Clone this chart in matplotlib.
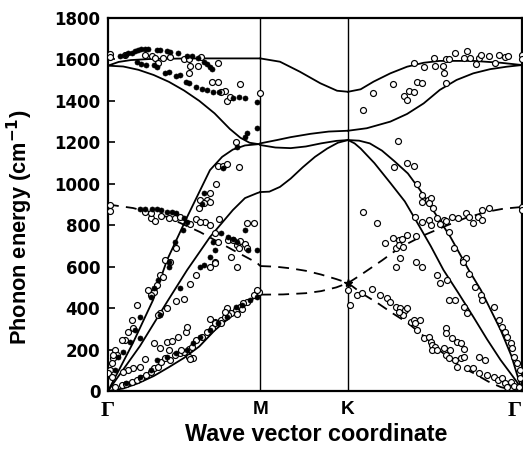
import matplotlib
matplotlib.use('Agg')
import matplotlib.pyplot as plt

# high-symmetry points along the path (Gamma-M = 1)
sym_pos = [0.0, 1.0, 1.577, 2.72]
sym_labels = ['Γ', 'M', 'K', 'Γ']

# ---- theoretical curves (solid) ----
up_gm_q = [0.0, 0.07, 0.15, 0.3, 0.6, 1.0]
up_gm_e = [1570, 1588, 1597, 1603, 1605, 1605]
up_mk_q = [1.0, 1.13, 1.26, 1.395, 1.505, 1.577]
up_mk_e = [1605, 1589, 1541, 1485, 1449, 1444]
up_kg_q = [1.577, 1.66, 1.745, 1.855, 1.965, 2.074, 2.18, 2.40, 2.58, 2.72]
up_kg_e = [1444, 1456, 1493, 1533, 1565, 1584, 1593, 1593, 1584, 1573]

lo_gm_q = [0.0, 0.1, 0.2, 0.3, 0.4, 0.5, 0.6, 0.7, 0.8, 0.87, 0.93, 1.0]
lo_gm_e = [1570, 1566, 1550, 1525, 1492, 1450, 1400, 1340, 1265, 1222, 1198, 1190]

mk_a_q = [1.0, 1.11, 1.2, 1.33, 1.45, 1.577]
mk_a_e = [1195, 1211, 1225, 1241, 1252, 1256]
kg_a_q = [1.577, 1.70, 1.855, 1.965, 2.074, 2.18, 2.29, 2.40, 2.51, 2.62, 2.72]
kg_a_e = [1256, 1268, 1300, 1337, 1388, 1453, 1501, 1533, 1553, 1565, 1573]

mk_b_q = [1.0, 1.1, 1.2, 1.3, 1.4, 1.5, 1.577]
mk_b_e = [1187, 1175, 1172, 1180, 1195, 1207, 1211]

la_gm_q = [0.0, 0.079, 0.164, 0.296, 0.388, 0.52, 0.67, 0.75, 0.82, 0.9, 1.0]
la_gm_e = [0, 111, 232, 439, 632, 840, 1066, 1130, 1165, 1185, 1192]

ta_gm_q = [0.0, 0.079, 0.21, 0.388, 0.52, 0.67, 0.82, 0.9, 0.98, 1.0]
ta_gm_e = [0, 82, 217, 430, 584, 743, 873, 931, 955, 960]
ta_mk_q = [1.0, 1.06, 1.13, 1.2, 1.28, 1.36, 1.44, 1.51, 1.577]
ta_mk_e = [960, 962, 985, 1025, 1080, 1130, 1170, 1198, 1211]

za_gm_q = [0.0, 0.1, 0.2, 0.3, 0.4, 0.5, 0.6, 0.7, 0.8, 0.9, 1.0]
za_gm_e = [0, 12, 38, 72, 115, 160, 215, 292, 355, 417, 470]

kg_c_q = [1.577, 1.62, 1.66, 1.75, 1.855, 1.95, 2.033, 2.12, 2.204, 2.30, 2.401, 2.49, 2.579, 2.65, 2.691, 2.72]
kg_c_e = [1211, 1195, 1170, 1100, 1004, 915, 811, 700, 584, 475, 357, 250, 150, 80, 39, 0]
kg_d_q = [1.577, 1.65, 1.72, 1.80, 1.88, 1.97, 2.05, 2.12, 2.25, 2.37, 2.45, 2.58, 2.65, 2.70, 2.72]
kg_d_e = [1211, 1208, 1195, 1160, 1110, 1050, 970, 890, 743, 584, 487, 294, 170, 50, 0]

# ---- theoretical curves (dashed) ----
zo_gm_q = [0.0, 0.164, 0.388, 0.605, 0.822, 0.98, 1.0]
zo_gm_e = [900, 883, 840, 767, 680, 618, 603]
zo_mk_q = [1.0, 1.1, 1.2, 1.3, 1.4, 1.5, 1.577]
zo_mk_e = [603, 600, 592, 580, 562, 540, 521]
zo_kg_q = [1.577, 1.65, 1.72, 1.80, 1.875, 1.965, 2.07, 2.23, 2.35, 2.49, 2.60, 2.72]
zo_kg_e = [521, 555, 590, 630, 670, 710, 750, 800, 835, 865, 880, 888]

za_mk_q = [1.0, 1.15, 1.3, 1.4, 1.5, 1.577]
za_mk_e = [465, 466, 472, 482, 500, 521]
za_kg_q = [1.577, 1.67, 1.77, 1.87, 1.97, 2.10, 2.18, 2.32, 2.40, 2.50, 2.58, 2.65, 2.72]
za_kg_e = [521, 470, 425, 375, 328, 250, 195, 116, 87, 45, 19, 6, 0]

# ---- experimental points, open circles ----
open_q = [
    0.01, 0.01, 0.11, 0.24, 0.29, 0.31, 0.36, 0.41, 0.33, 0.50, 0.53, 0.61, 0.54, 0.59,
    0.53, 0.72, 0.68, 0.72, 0.87, 0.77, 0.74, 0.78, 0.80, 1.0, 0.84,
    0.01, 0.01, 0.72, 0.755, 0.78, 0.86, 0.71, 0.67, 0.65, 0.67, 0.605, 0.63, 0.60,
    0.73, 0.58, 0.64, 0.605, 0.67, 0.54, 0.28, 0.31, 0.35, 0.40, 0.44, 0.47, 0.24, 0.28,
    0.91, 0.96, 0.70, 0.72, 0.79, 0.82, 0.87, 0.85, 0.90, 0.91, 0.86, 0.45, 0.375, 0.41,
    0.81, 0.70, 0.85, 0.67,
    0.34, 0.36, 0.32, 0.30, 0.28, 0.265, 0.19, 0.156, 0.167, 0.134, 0.11, 0.09,
    0.046, 0.057, 0.035, 0.024, 0.013, 0.002, 0.024, 0.035,
    0.70, 0.58, 0.54, 0.50, 0.45, 0.39, 0.34, 0.33,
    0.24, 0.21, 0.167, 0.134, 0.10,
    0.046, 0.09, 0.12, 0.156, 0.19, 0.22, 0.25, 0.28, 0.30, 0.33, 0.35, 0.375, 0.41, 0.44,
    0.47, 0.50, 0.53, 0.55, 0.58, 0.62, 0.65, 0.68, 0.70, 0.74, 0.77, 0.80, 0.84, 0.87,
    0.91, 0.96, 0.99,
    0.30, 0.34, 0.39, 0.42, 0.46, 0.51, 0.52, 0.40, 0.48, 0.56, 0.53, 0.54,
    0.67, 0.70, 0.74, 0.78, 0.81, 0.85, 0.79, 0.77, 0.88, 0.89, 0.98,
    # K - Gamma
    1.676, 1.74, 1.87, 1.906, 1.947, 1.965, 1.976, 2.01, 2.03, 2.064, 2.074, 2.01, 2.14,
    2.15, 2.20, 2.206, 2.22, 2.22, 2.24, 2.28, 2.34, 2.36, 2.38, 2.42, 2.44, 2.45, 2.50,
    2.54, 2.57, 2.61, 2.63, 2.72, 2.72,
    1.877, 1.965, 2.013, 1.676, 1.77, 2.03, 2.064, 2.064, 2.10, 2.12, 2.11, 2.136, 2.02,
    2.064, 2.107, 2.16, 2.12, 2.206, 2.18, 2.22, 2.26, 2.24, 2.30, 2.35, 2.37, 2.40, 2.43,
    2.46, 2.46, 2.50, 2.72, 2.72, 2.27, 2.33, 2.35, 1.965, 2.026,
    1.82, 1.87, 1.91, 1.93, 1.89, 1.91, 1.94, 1.92, 1.89, 2.026, 2.064,
    1.58, 1.59, 1.636, 1.67, 1.735, 1.785, 1.83, 1.855, 1.89, 1.92, 1.93, 1.95, 1.965,
    1.94, 1.91, 1.99, 2.01, 2.05, 2.02, 2.03, 2.074, 2.107, 2.12, 2.13, 2.15, 2.13, 2.16,
    2.22, 2.22, 2.26, 2.29, 2.32, 2.34, 2.206, 2.25, 2.22, 2.24, 2.28, 2.32,
    2.34, 2.29, 2.36, 2.40, 2.44, 2.48, 2.44, 2.49, 2.535, 2.56, 2.59, 2.61, 2.645, 2.62,
    2.67, 2.70,
    2.33, 2.37, 2.41, 2.45, 2.46, 2.535, 2.57, 2.59, 2.61, 2.62, 2.645, 2.655, 2.67, 2.69,
    2.71, 2.71,
    2.16, 2.18, 2.23, 2.24, 2.28, 2.34, 2.36,
]
open_e = [
    1626, 1610, 1622, 1622, 1617, 1606, 1606, 1610, 1581, 1601, 1601, 1613, 1568, 1568,
    1533, 1585, 1493, 1493, 1482, 1449, 1441, 1401, 1417, 1440, 1203,
    898, 870, 1086, 1086, 1095, 1082, 999, 954, 922, 913, 922, 906, 882,
    829, 829, 817, 817, 801, 806, 833, 822, 845, 833, 833, 841, 865, 858,
    809, 809, 761, 721, 729, 729, 725, 705, 709, 689, 689, 689, 632, 624,
    648, 624, 600, 597,
    560, 552, 512, 479, 463, 487, 415, 343, 303, 286, 246, 246,
    198, 174, 158, 134, 101, 85, 69, 174,
    619, 560, 516, 443, 436, 399, 375, 367,
    153, 117, 109, 101, 93,
    21, 29, 34, 45, 53, 61, 77, 93, 109, 117, 141, 158, 150, 174,
    182, 190, 201, 214, 246, 259, 286, 303, 334, 343, 359, 375, 391, 407,
    431, 463, 479,
    230, 206, 238, 243, 262, 286, 310, 198, 198, 158, 166, 153,
    346, 327, 330, 399, 375, 372, 367, 383, 394, 423, 487,
    1356, 1440, 1482, 1208, 1424, 1404, 1448, 1444, 1490, 1488, 1562, 1584, 1606,
    1568, 1568, 1533, 1488, 1601, 1601, 1633, 1606, 1641, 1606, 1578, 1606, 1622, 1617,
    1581, 1622, 1610, 1618, 1622, 1601,
    1080, 1102, 1086, 865, 812, 997, 946, 914, 922, 930, 906, 882, 841,
    817, 825, 833, 801, 825, 806, 822, 838, 769, 833, 860, 838, 812, 841,
    825, 873, 882, 889, 873, 689, 632, 640, 753, 748,
    713, 737, 729, 732, 689, 705, 693, 640, 600, 624, 600,
    487, 415, 463, 474, 491, 463, 447, 431, 407, 399, 375, 391, 399,
    367, 383, 334, 343, 343, 327, 294, 254, 259, 238, 222, 214, 198, 198,
    303, 281, 254, 238, 230, 201, 206, 198, 174, 158, 150, 158,
    166, 117, 109, 109, 166, 150, 85, 77, 69, 53, 61, 37, 45, 21,
    24, 21,
    624, 565, 503, 463, 439, 407, 343, 310, 286, 262, 230, 206, 166, 134,
    101, 61,
    560, 520, 536, 439, 439, 407, 375,
]

# ---- experimental points, filled circles ----
fill_q = [
    0.079, 0.11, 0.134, 0.156, 0.178, 0.20, 0.22, 0.243, 0.265, 0.32, 0.34, 0.386, 0.41,
    0.46, 0.52, 0.55, 0.59, 0.63, 0.65, 0.67, 0.68,
    0.19, 0.22, 0.25, 0.30, 0.32, 0.375, 0.40, 0.45, 0.47, 0.51, 0.53, 0.58, 0.62, 0.65,
    0.69, 0.73, 0.82, 0.86, 0.90, 0.98, 0.98, 0.91, 0.90, 0.85,
    0.21, 0.24, 0.29, 0.32, 0.35, 0.39, 0.42, 0.45, 0.50, 0.52,
    0.755, 0.63, 0.62, 0.49, 0.44, 0.40,
    0.74, 0.79, 0.82, 0.90, 0.69, 0.70, 0.67, 0.605, 0.92, 0.98, 0.85,
    0.40, 0.33, 0.30, 0.28, 0.21, 0.18, 0.145, 0.10, 0.068, 0.046,
    0.63, 0.47, 0.34, 0.21,
    0.12, 0.21, 0.28, 0.32, 0.39, 0.45, 0.52, 0.56, 0.605, 0.67, 0.72, 0.78, 0.84, 0.88,
    0.93, 0.98,
]
fill_e = [
    1617, 1622, 1630, 1633, 1641, 1646, 1649, 1650, 1652, 1646, 1646, 1642, 1638,
    1633, 1617, 1617, 1606, 1589, 1578, 1562, 1553,
    1589, 1578, 1573, 1573, 1565, 1533, 1541, 1520, 1525, 1493, 1485, 1469, 1456, 1453,
    1444, 1444, 1413, 1420, 1413, 1396, 1268, 1244, 1227, 1179,
    877, 877, 877, 880, 873, 865, 865, 858, 833, 817,
    1075, 954, 902, 777, 721, 600,
    761, 742, 732, 777, 721, 680, 648, 600, 680, 680, 721,
    624, 536, 496, 455, 359, 294, 238, 190, 166, 101,
    608, 496, 367, 254,
    37, 69, 101, 150, 166, 182, 198, 230, 262, 294, 327, 359, 407, 415,
    439, 455,
]

fig = plt.figure(figsize=(5.23, 4.53), dpi=100)
ax = fig.add_axes([108 / 523, 62 / 453, 414 / 523, 373 / 453])

lw = 1.3
solid = [(up_gm_q, up_gm_e), (up_mk_q, up_mk_e), (up_kg_q, up_kg_e),
         (lo_gm_q, lo_gm_e), (mk_a_q, mk_a_e), (kg_a_q, kg_a_e), (mk_b_q, mk_b_e),
         (la_gm_q, la_gm_e), (ta_gm_q, ta_gm_e), (ta_mk_q, ta_mk_e),
         (za_gm_q, za_gm_e), (kg_c_q, kg_c_e), (kg_d_q, kg_d_e)]
for q, e in solid:
    ax.plot(q, e, color='black', lw=lw, zorder=2)

dashed = [(zo_gm_q, zo_gm_e), (zo_mk_q, zo_mk_e), (zo_kg_q, zo_kg_e),
          (za_mk_q, za_mk_e), (za_kg_q, za_kg_e)]
for q, e in dashed:
    ax.plot(q, e, color='black', lw=lw, dashes=(6, 4), zorder=2)

ax.plot(open_q, open_e, 'o', ms=4.3, mfc='white', mec='black', mew=0.85, zorder=3)
ax.plot(fill_q, fill_e, 'o', ms=3.6, mfc='black', mec='black', mew=0.5, zorder=4)
ax.plot([sym_pos[2]], [521], marker='*', ms=6, color='black', zorder=5)

for x in sym_pos[1:3]:
    ax.axvline(x, color='black', lw=1.0, zorder=1)

ax.set_xlim(0, 2.72)
ax.set_ylim(0, 1800)
ax.set_yticks(range(0, 1801, 200))
ax.set_xticks(sym_pos)
ax.set_xticklabels(sym_labels)
xt = ax.get_xticklabels()
for i, t in enumerate(xt):
    if sym_labels[i] == 'Γ':
        t.set_fontfamily('Liberation Serif')
        t.set_fontsize(16)
    else:
        t.set_fontfamily('Liberation Sans')
        t.set_fontsize(13.7)
    t.set_fontweight('bold')
xt[-1].set_horizontalalignment('right')
for t in ax.get_yticklabels():
    t.set_fontfamily('DejaVu Sans')
    t.set_fontweight('bold')
    t.set_fontsize(12)

ax.tick_params(axis='y', direction='in', length=5, width=1.2, pad=5.5)
ax.tick_params(axis='x', length=0, pad=7)
for s in ax.spines.values():
    s.set_linewidth(1.6)

ax.set_ylabel('Phonon energy (cm$^{\\mathbf{-1}}$)', fontsize=15.7, fontweight='bold',
              family='Liberation Sans')
ax.yaxis.set_label_coords(-0.176, 0.44)
ax.set_xlabel('Wave vector coordinate', fontsize=16.8, fontweight='bold',
              family='Liberation Sans')
ax.xaxis.set_label_coords(0.502, -0.087)

fig.savefig('out.png', dpi=100)
